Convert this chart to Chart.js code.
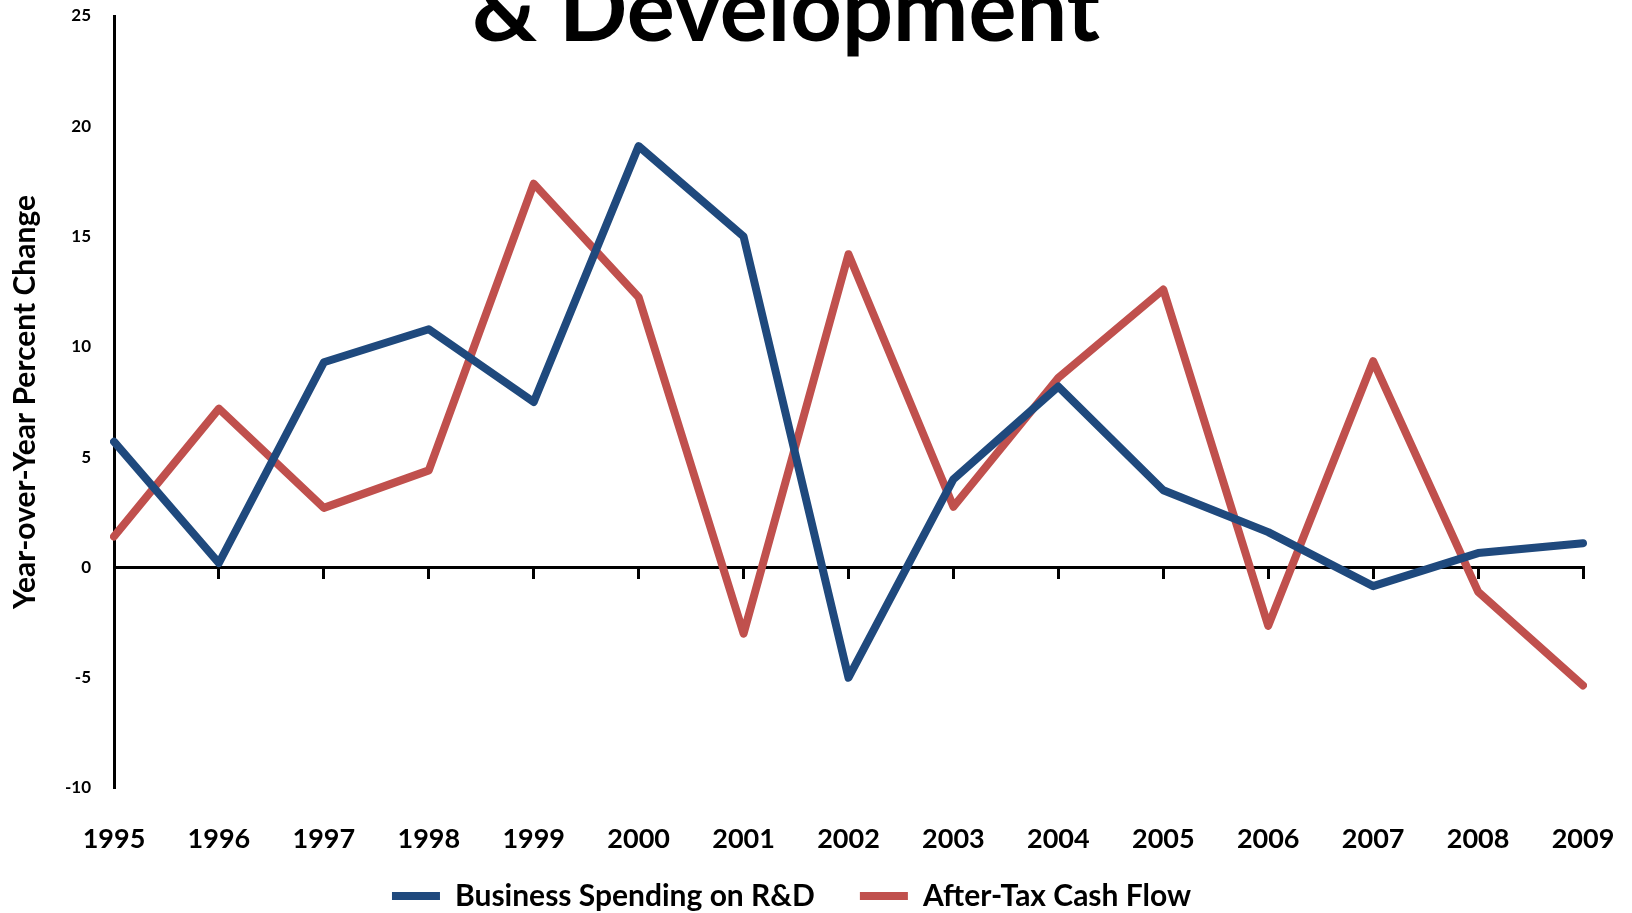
<!DOCTYPE html>
<html>
<head>
<meta charset="utf-8">
<title>Business Spending on Research & Development</title>
<script src="https://cdn.jsdelivr.net/npm/chart.js@4.4.1/dist/chart.umd.min.js"></script>
<style>
  html, body { margin: 0; padding: 0; background: #fff; }
  #wrap { width: 1632px; height: 913px; overflow: hidden; }
</style>
</head>
<body>
<div id="wrap"><canvas id="chart" width="1632" height="913"></canvas></div>
<script>
// Data
const years = ['1995', '1996', '1997', '1998', '1999', '2000', '2001', '2002',
               '2003', '2004', '2005', '2006', '2007', '2008', '2009'];
const rdSpending = [5.7, 0.2, 9.3, 10.8, 7.5, 19.1, 15.0, -5.0, 4.0, 8.2, 3.5, 1.6, -0.85, 0.65, 1.1];
const cashFlow = [1.4, 7.2, 2.7, 4.4, 17.4, 12.25, -3.0, 14.2, 2.75, 8.6, 12.6, -2.65, 9.35, -1.1, -5.35];
const yMin = -10;
const yMax = 25;
const yStep = 5;
const titleText = '& Development';

const blue = '#1F497D';
const red = '#C0504D';

Chart.defaults.font.family = "Lato, 'Open Sans', sans-serif";
Chart.defaults.font.weight = 'bold';
Chart.defaults.color = '#000';

// The title in the original runs off the top edge and overlaps the plot,
// so it is drawn over the chart instead of taking layout space
const cutTitle = {
  id: 'cutTitle',
  afterDraw(c) {
    const ctx = c.ctx;
    ctx.save();
    ctx.font = "bold 90px Lato, 'Open Sans', sans-serif";
    ctx.fillStyle = '#000';
    ctx.textAlign = 'center';
    ctx.textBaseline = 'alphabetic';
    ctx.fillText(titleText, 786, 41);
    ctx.restore();
  }
};

const ctx = document.getElementById('chart').getContext('2d');
const chart = new Chart(ctx, {
  type: 'line',
  data: {
    labels: years,
    datasets: [{
      label: 'Business Spending on R&D',
      data: rdSpending,
      borderColor: blue,
      backgroundColor: blue,
      borderWidth: 8,
      pointRadius: 0,
      borderCapStyle: 'round',
      borderJoinStyle: 'round',
      tension: 0
    }, {
      label: 'After-Tax Cash Flow',
      data: cashFlow,
      borderColor: red,
      backgroundColor: red,
      borderWidth: 8,
      pointRadius: 0,
      borderCapStyle: 'round',
      borderJoinStyle: 'round',
      tension: 0
    }]
  },
  plugins: [cutTitle],
  options: {
    responsive: false,
    animation: false,
    layout: { padding: { left: 0, right: 49, top: 16, bottom: 0 } },
    plugins: {
      title: { display: false },
      legend: {
        position: 'bottom',
        maxHeight: 77,
        labels: {
          boxWidth: 48,
          boxHeight: 8,
          padding: 45,
          useBorderRadius: true,
          borderRadius: 4,
          font: { size: 30, weight: 'bold' },
          generateLabels: function(c) {
            return c.data.datasets.map((ds, i) => ({
              text: ds.label,
              fillStyle: ds.borderColor,
              strokeStyle: ds.borderColor,
              lineWidth: 0,
              hidden: false,
              datasetIndex: i
            }));
          }
        }
      },
      tooltip: { enabled: false }
    },
    scales: {
      // bottom axis only keeps room between the plot and the legend
      x: {
        position: 'bottom',
        grid: { display: false, drawTicks: false },
        border: { display: false },
        ticks: { display: false },
        afterFit: function(s) { s.height = 48; }
      },
      // axis line at zero, tick marks hanging below, year labels further down
      x0: {
        type: 'category',
        position: { y: 0 },
        grid: { drawOnChartArea: false, drawTicks: true, tickLength: 10, color: '#000', lineWidth: 3 },
        border: { display: true, color: '#000', width: 3 },
        ticks: { padding: 246, font: { size: 27 }, maxRotation: 0, autoSkip: false },
        afterFit: function(s) { s.paddingLeft = 0; s.paddingRight = 0; }
      },
      y: {
        min: yMin,
        max: yMax,
        ticks: { stepSize: yStep, padding: 23, font: { size: 17 } },
        grid: { drawOnChartArea: false, drawTicks: false },
        border: { display: true, color: '#000', width: 3 },
        title: {
          display: true,
          text: 'Year-over-Year Percent Change',
          font: { size: 30, weight: 'bold' },
          padding: { top: 7, bottom: 0 }
        },
        afterFit: function(s) {
          s.width = 114;
          s.paddingTop = 0;
          s.paddingBottom = 0;
        }
      }
    }
  }
});
</script>
</body>
</html>
